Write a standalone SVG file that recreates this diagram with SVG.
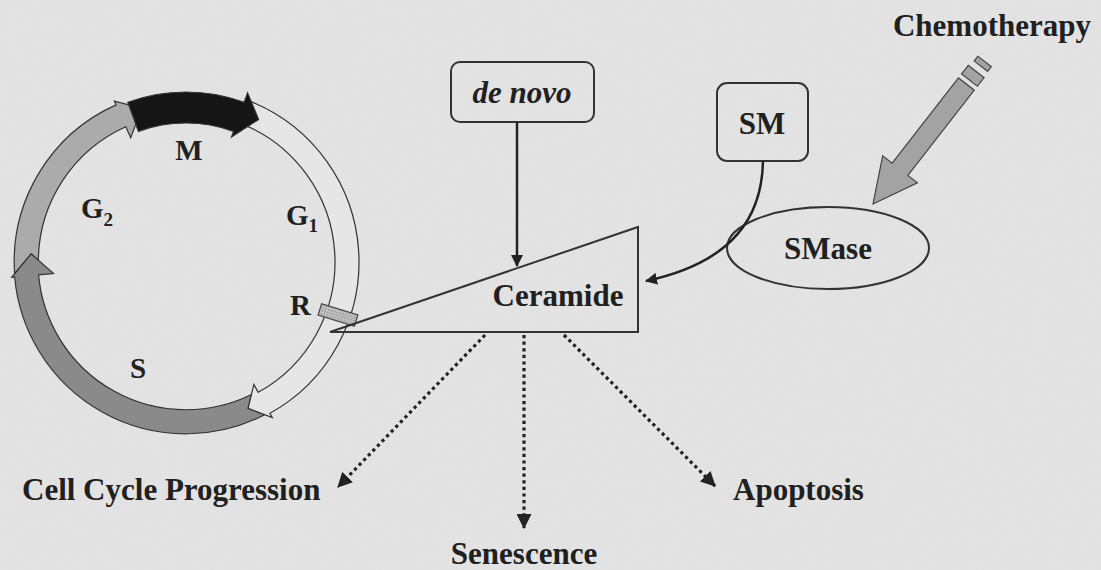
<svg xmlns="http://www.w3.org/2000/svg" width="1101" height="570" viewBox="0 0 1101 570">
<style>
text{font-family:"Liberation Serif","Times New Roman",serif;font-weight:bold;fill:#202020}
.lbl{font-size:31px}
.cyc{font-size:29px}
.sub{font-size:19px}
.box{fill:none;stroke:#333;stroke-width:2}
.band{stroke:#333;stroke-width:1.2;stroke-linejoin:miter}
.solid{fill:none;stroke:#222;stroke-width:2.5}
.dot{fill:none;stroke:#222;stroke-width:3.2;stroke-dasharray:3.2 3.4}
</style>
<defs>
<marker id="ah" viewBox="0 0 12 12" refX="11" refY="6" markerWidth="12" markerHeight="12" markerUnits="userSpaceOnUse" orient="auto">
<path d="M0,0 L12,6 L0,12 Z" fill="#222"/>
</marker>
<marker id="ahd" viewBox="0 0 14 14" refX="13" refY="7" markerWidth="15" markerHeight="15" markerUnits="userSpaceOnUse" orient="auto">
<path d="M0,0 L14,7 L0,14 Z" fill="#222"/>
</marker>
<pattern id="stip" width="3" height="3" patternUnits="userSpaceOnUse">
<rect width="3" height="3" fill="#c4c4c4"/>
<rect width="1.5" height="1.5" fill="#8c8c8c"/>
</pattern>
<filter id="grain" x="0" y="0" width="100%" height="100%">
<feTurbulence type="fractalNoise" baseFrequency="0.9" numOctaves="2" seed="3"/>
<feColorMatrix type="matrix" values="0 0 0 0 0.5  0 0 0 0 0.5  0 0 0 0 0.5  0 0 0 0.12 0"/>
</filter>
</defs>
<rect width="1101" height="570" fill="#e4e4e4"/>
<rect width="1101" height="570" filter="url(#grain)" opacity="0.6"/>

<g id="cell-cycle">
<path id="G2-arc" class="band" fill="#ababab" d="M14.60,273.75 A172,172 0 0 1 116.04,104.87 L114.41,101.22 L141.90,108.20 L130.68,137.76 L125.80,126.79 A148,148 0 0 0 38.35,260.19 L31.21,253.89 Z"/>
<path id="S-arc" class="band" fill="#8a8a8a" d="M264.66,414.74 A172,172 0 0 1 14.66,276.99 L11.67,277.25 L31.21,253.89 L53.51,273.59 L38.56,274.90 A148,148 0 0 0 251.46,394.49 L248.13,408.36 Z"/>
<path id="G1-arc" class="band" fill="#e6e6e6" d="M250.81,101.60 A173,173 0 0 1 269.87,413.31 L272.30,417.68 L248.13,408.36 L253.87,384.45 L258.24,392.32 A149,149 0 0 0 241.82,123.85 Z"/>
<path id="M-arc" class="band" fill="#151515" d="M127.86,102.25 A170,170 0 0 1 244.14,102.25 L247.56,92.85 L258.64,119.44 L231.49,137.02 L233.54,131.38 A139,139 0 0 0 138.46,131.38 Z"/>
<text class="cyc" x="189" y="160" text-anchor="middle">M</text>
<text class="cyc" x="81" y="218">G<tspan class="sub" dy="8">2</tspan></text>
<text class="cyc" x="286" y="225">G<tspan class="sub" dy="7">1</tspan></text>
<text class="cyc" x="130" y="378">S</text>
<text class="cyc" x="290" y="315">R</text>
<rect id="R-box" x="319" y="309" width="38" height="12" fill="url(#stip)" stroke="#444" stroke-width="1.2" transform="rotate(17 338 315)"/>
</g>

<g id="ceramide">
<polygon points="330,332 638,227 638,332" fill="none" stroke="#333" stroke-width="2"/>
<text class="lbl" x="558" y="306" text-anchor="middle">Ceramide</text>
</g>

<g id="de-novo">
<rect class="box" x="451" y="62" width="143" height="60" rx="9"/>
<text class="lbl" x="522" y="103" text-anchor="middle" font-style="italic">de novo</text>
</g>

<g id="SM">
<rect class="box" x="717" y="83" width="91" height="78" rx="10"/>
<text class="lbl" x="762" y="134" text-anchor="middle">SM</text>
</g>

<g id="SMase">
<ellipse cx="828" cy="248" rx="101" ry="41" fill="none" stroke="#333" stroke-width="2"/>
<text class="lbl" x="828" y="259" text-anchor="middle">SMase</text>
</g>

<g id="chemotherapy">
<text class="lbl" x="992" y="36" text-anchor="middle">Chemotherapy</text>
</g>

<g id="cell-cycle-progression"><text class="lbl" x="22" y="500">Cell Cycle Progression</text></g>
<g id="senescence"><text class="lbl" x="524" y="564" text-anchor="middle">Senescence</text></g>
<g id="apoptosis"><text class="lbl" x="733" y="500">Apoptosis</text></g>

<g id="connectors">
<line class="solid" x1="517" y1="122" x2="517" y2="266" marker-end="url(#ah)"/>
<path class="solid" d="M763,161 C762,215 735,262 646,281" marker-end="url(#ah)"/>
<line class="dot" x1="485" y1="335" x2="338" y2="487" marker-end="url(#ahd)"/>
<line class="dot" x1="524" y1="335" x2="524" y2="528" marker-end="url(#ahd)"/>
<line class="dot" x1="564" y1="335" x2="715" y2="486" marker-end="url(#ahd)"/>
<g id="chemo-arrow" transform="translate(873,204) rotate(127.9)" fill="#a3a3a3" stroke="#444" stroke-width="1.2">
<path d="M0,0 L-44,-22 L-44,-10 L-152,-10 L-152,10 L-44,10 L-44,22 Z"/>
<rect x="-168" y="-10" width="11" height="20"/>
<rect x="-181" y="-9" width="6" height="17"/>
</g>
</g>
</svg>
